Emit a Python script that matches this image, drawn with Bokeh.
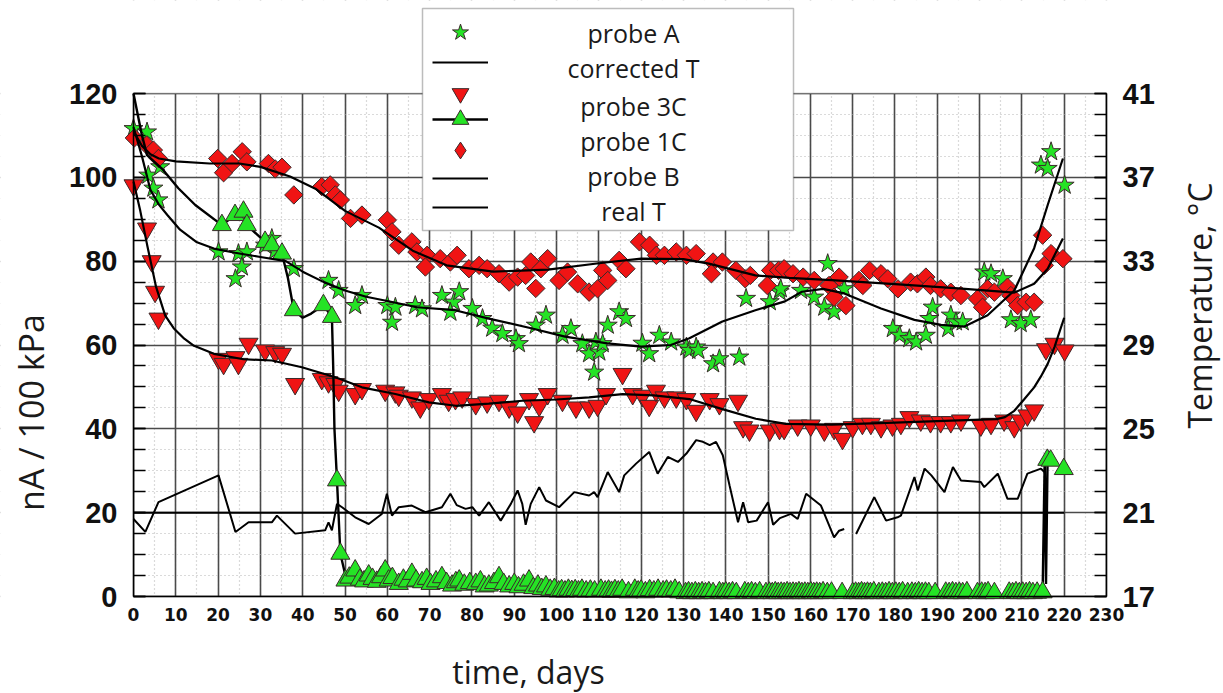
import math
from bokeh.plotting import figure
from bokeh.models import (Range1d, LinearAxis, SingleIntervalTicker, FixedTicker,
                          Legend, LegendItem, Label, BoxAnnotation)
from bokeh.embed import file_html
from bokeh.resources import INLINE

NaN = float("nan")

# ---------------- data ----------------
# probe A  (green stars)  nA / 100 kPa
probe_a_day = [0, 3.2, 3.5, 4.7, 5.9, 6.3, 20.1, 24.8, 26.8, 25.6, 24.1, 32.7, 31.1, 33.5,
               37.9, 46.1, 48.5, 54, 52.4, 60, 61.9, 61.1, 66.6, 68.2, 72.9, 75.7, 74.9,
               77, 80.1, 82.5, 84.8, 87.2, 90.4, 91.1, 95.1, 97.5, 101.4, 103.4, 106.1,
               107.7, 108.9, 109.3, 110.1, 110.9, 112.1, 114.8, 116.4, 120.3, 121.9, 124.3,
               127.1, 130.7, 131.4, 133, 133.5, 137, 138.5, 143.2, 144.8, 150.4, 152.7,
               153, 157.8, 160.9, 163.3, 164.1, 165.6, 168, 179.5, 181.1, 183.4, 185,
               187.3, 188.1, 188.9, 192.6, 193.2, 194.4, 196, 201.1, 202.7, 205.5, 207.4,
               209.7, 212.1, 214.5, 216.1, 216.9, 220.1]
probe_a_val = [111.6, 110.8, 100.5, 97.4, 94.6, 102.5, 82.2, 81.8, 82.2, 78.6, 75.8, 85.4, 83.8, 82.5,
               78.2, 75.4, 73.0, 71.8, 69.4, 69.4, 69.0, 65.4, 69.4, 68.6, 71.8, 70.2, 67.8,
               72.7, 68.7, 66.3, 64.0, 62.7, 61.5, 60.3, 64.7, 67.1, 62.3, 63.9, 60.3,
               57.9, 53.5, 60.7, 58.3, 60.3, 64.7, 67.9, 66.3, 60.4, 57.9, 62.3,
               60.7, 59.5, 58.7, 59.5, 58.7, 55.5, 56.7, 57.1, 71.1, 70.3, 72.7,
               73.4, 73.0, 71.4, 69.0, 79.4, 67.9, 73.4, 63.9, 62.3, 61.5, 60.7,
               62.3, 66.3, 69.0, 63.9, 67.1, 65.5, 65.5, 77.4, 77.0, 75.8, 66.0,
               65.1, 66.0, 102.9, 102.1, 106.1, 98.1]

# red diamonds
diamond_day = [0.2, 3.1, 4.7, 5.9, 19.9, 21.3, 23.3, 25.7, 26.8, 31.9, 33.5, 35.1, 37.9,
               44.5, 46.5, 47.7, 48.9, 51.3, 54, 60, 61.1, 62.7, 65.8, 67, 69.4, 69, 72.5,
               74.9, 76.5, 79.3, 81.7, 83.6, 86.4, 88.8, 90.8, 92.7, 93.9, 95.1, 96.3,
               97.9, 100.6, 102.6, 105, 107.7, 109.7, 110.9, 112.1, 114.8, 116.4, 119.6,
               122, 123.6, 125.5, 128.3, 130.7, 133, 137, 136.6, 139.2, 142.4, 144.6,
               145.8, 149.8, 150.6, 152.5, 153.8, 155.9, 158.3, 160.9, 164.4, 166.8,
               165.6, 168.4, 171.5, 172.4, 174, 176.7, 178.3, 180.7, 183.7, 185.3,
               187.3, 188.4, 190.8, 193.2, 195.6, 199.5, 200.7, 201.9, 203.5, 206.6,
               207.4, 209, 211, 212.9, 214.9, 215.3, 216.9, 219.7]
diamond_val = [109.4, 107.7, 106.5, 104.5, 104.5, 101.1, 103.3, 106.1, 103.7, 103.3, 102.0, 102.4, 95.8,
               97.8, 98.2, 95.8, 94.6, 90.2, 91.0, 89.8, 87.0, 83.8, 84.6, 82.2, 81.4, 78.6, 80.6,
               79.8, 81.4, 78.2, 79.0, 78.2, 77.0, 75.0, 76.2, 76.6, 79.8, 73.5, 78.2,
               80.6, 75.4, 77.4, 74.6, 72.6, 73.4, 77.8, 75.4, 80.2, 78.2, 84.6,
               83.8, 81.4, 81.4, 82.2, 81.4, 81.8, 79.8, 77.0, 79.8, 77.8, 75.8,
               76.6, 74.2, 77.8, 77.8, 78.2, 77.0, 76.2, 75.4, 74.2, 76.2,
               71.4, 69.4, 75.4, 74.2, 77.8, 77.0, 75.8, 73.4, 75.0, 74.6,
               76.2, 74.2, 73.4, 72.6, 71.8, 71.0, 69.0, 73.4, 72.6, 73.8,
               71.8, 69.4, 70.2, 70.2, 86.2, 79.0, 81.8, 80.6]

# probe 3C (red down triangles)
probe_3c_day = [0, 3.2, 4.3, 5.1, 5.9, 20.1, 21.3, 24.1, 24.8, 27.2, 31.1, 33.5, 35.1, 38.2,
                44.5, 46.1, 47.7, 48.5, 52.4, 54, 59.5, 61.9, 62.7, 65.8, 67.8, 69.8, 72.9,
                74.5, 76.1, 77.7, 80.9, 83.6, 86.4, 88.8, 90.8, 93.5, 94.7, 95.9, 97.9,
                101.4, 104.6, 107.7, 109.7, 111.7, 115.6, 118, 120.3, 121.9, 123.5, 125.5,
                128.3, 130.7, 133, 136.2, 138.5, 142.9, 144.1, 145.6, 150.4, 152.7, 153.8,
                157, 160.1, 163.3, 165.6, 167.6, 170, 172.3, 174.3, 176.7, 179.4, 181.4,
                183.4, 186.1, 188.4, 190.8, 193.2, 195.6, 200.3, 202.7, 205.8, 208.2,
                209.7, 211.3, 212.9, 215.7, 217.7, 220.1]
probe_3c_val = [98.1, 87.8, 80.0, 72.7, 66.3, 56.7, 55.5, 57.1, 55.5, 60.3, 58.7, 58.3, 57.9, 50.7,
                51.9, 51.1, 50.7, 49.1, 48.3, 49.5, 49.1, 48.7, 47.9, 47.5, 45.1, 47.1, 48.3,
                46.7, 47.1, 47.5, 45.9, 46.3, 46.7, 45.1, 43.9, 47.1, 41.6, 45.5, 48.3,
                46.7, 45.1, 45.1, 45.5, 48.3, 53.1, 48.3, 47.9, 45.5, 49.1, 47.5,
                47.5, 47.1, 44.3, 47.1, 45.9, 46.7, 40.4, 39.6, 39.6, 40.0, 40.0,
                40.8, 40.8, 39.6, 40.0, 37.6, 40.4, 41.2, 41.2, 40.4, 40.8, 41.2,
                42.8, 42.0, 41.6, 41.6, 41.6, 42.0, 40.8, 41.2, 42.0, 40.4,
                42.0, 43.2, 44.4, 59.0, 60.3, 58.7]

# probe 1C (green up triangles)
probe_1c_day = [20.9, 24, 26, 26.8, 31.1, 32.7, 35.1, 37.9, 44.9, 46.9, 48.1, 48.9,
                50.1, 51, 52.4, 53.5, 54.5, 55.6, 56.5, 57.5, 58.5, 59.5, 60.3, 61.2, 62.7,
                63.8, 64.8, 65.8, 66.8, 68.2, 69.3, 70.2, 71.5, 72.9, 74, 75.3, 76.2, 77,
                78.2, 79.5, 80.9, 82, 83, 84, 85.2, 86.4, 87.5, 88.8, 90, 91, 92.2, 93.5,
                94.5, 95.6, 96.5, 97.5, 98.5, 99.5, 100.5, 101.2, 102, 102.8, 103.6, 104.4,
                105.2, 106, 107, 108, 109, 110.5, 111.5, 112.3, 113, 113.8, 114.6, 115.5,
                117, 118.5, 119.3, 120, 121, 122, 123, 124, 125.2, 126, 127, 128, 129,
                130.5, 131.2, 132, 132.8, 133.6, 134.4, 135.2, 136, 137, 138.5, 139.3,
                140, 140.8, 141.6, 142.5, 144.5, 145.3, 146.1, 147, 148, 149.5, 150.3,
                151, 151.7, 152.4, 153.1, 153.8, 154.5, 155.2, 155.9, 156.6, 157.3, 158,
                158.7, 159.4, 160.1, 160.8, 161.5, 162.2, 163, 164, 165, 167.5, 170,
                170.7, 171.4, 172.1, 172.8, 173.5, 174.2, 175, 176.2, 177, 177.8, 178.6,
                179.4, 180.2, 181, 181.8, 183, 184, 184.8, 185.6, 186.4, 187.2, 188,
                189.5, 192, 192.8, 193.6, 194.4, 195.2, 196, 197, 199.5, 200.5, 201.3,
                202, 203.5, 207, 207.8, 208.6, 209.4, 210.2, 211, 211.8, 212.6, 213.6,
                214.9, 216.0, 216.8, 219.9]
probe_1c_val = [88.6, 91.0, 91.8, 88.6, 84.6, 83.8, 81.8, 68.3, 69.5, 66.7, 27.7, 10.2,
                3.8, 4.5, 6.2, 4.0, 3.6, 5.0, 4.2, 3.5, 4.6, 6.2, 3.8, 4.4, 3.0,
                4.0, 3.6, 5.4, 3.8, 3.4, 4.2, 3.0, 3.6, 4.6, 3.2, 2.6, 3.4, 3.8,
                2.8, 3.2, 3.0, 3.6, 2.4, 2.6, 3.2, 4.6, 3.0, 2.4, 3.0, 2.2, 2.8, 3.8,
                2.0, 2.6, 1.8, 2.4, 1.6, 1.8, 1.2, 1.5, 1.2, 1.6, 1.3, 1.5,
                1.2, 1.6, 1.2, 1.4, 1.2, 1.6, 1.2, 1.4, 1.1, 1.5, 1.2, 1.6,
                1.0, 1.6, 1.2, 1.4, 1.0, 1.5, 1.2, 1.6, 1.2, 1.4, 1.2, 1.6, 1.0,
                0.8, 1.0, 0.8, 1.0, 0.8, 1.0, 0.8, 1.0, 0.8, 1.0, 0.8,
                1.0, 0.8, 1.0, 0.8, 1.0, 0.8, 1.0, 0.8, 1.0, 0.8, 0.9,
                0.8, 1.0, 0.8, 0.9, 0.8, 1.0, 0.8, 0.9, 0.8, 1.0, 0.8,
                0.9, 0.8, 1.0, 0.8, 0.9, 0.8, 1.0, 0.8, 0.9, 0.8, 0.8,
                0.9, 0.8, 1.0, 0.8, 0.9, 0.8, 1.0, 0.8, 0.9, 0.8, 1.0,
                0.8, 0.9, 0.8, 1.0, 0.8, 0.9, 0.8, 1.0, 0.8, 0.9, 0.8,
                0.8, 0.9, 0.8, 1.0, 0.8, 0.9, 0.8, 1.0, 0.8, 0.9, 0.8,
                1.0, 0.8, 0.9, 0.8, 1.0, 0.8, 0.9, 0.8, 1.0, 0.8, 0.9,
                1.0, 32.6, 32.4, 30.4]

# line joining probe 1C readings (NaN = gap)
line_1c_day = [0, 2, 3.2, 6.7, 10.6, 14.6, 20.9, 24, 26, 26.8, 31.1, 32.7, 35.1, 36.5, 37.9,
               40, 42, 44.9, 46.9, 47.2, 47.5, 48.1, 48.9, 50.1, 51, NaN,
               214.9, 215.4, 215.7, 216.1]
line_1c_val = [120, 110, 105.3, 102.1, 97.4, 93.4, 88.6, 91.0, 91.8, 88.6, 84.6, 83.8, 81.8, 76, 68.3,
               66.5, 67.5, 69.5, 66.7, 55, 40, 27.7, 10.2, 5.0, 3.8, NaN,
               1.0, 33, 3, 34.8]

# smooth trend curves
fit_a_day = [0, 2, 4, 6, 8, 11, 15, 19, 24, 30, 36, 40, 45, 50, 55, 60, 67, 76, 84, 94, 102,
             112, 120, 127, 131.4, 139.2, 147, 154, 158, 163, 168, 176.7, 184.6, 190.9,
             196.4, 201.9, 208.2, 212.9, 216.1, 219.7]
fit_a_val = [112, 105, 97, 93.5, 91, 87.5, 84.5, 83, 82, 81, 80, 77.5, 75, 73, 71.5, 70.5, 69,
             68.3, 66.3, 64, 62, 60.4, 59.6, 60, 61.6, 65.6, 68.3, 70.4, 72.7, 73.4, 72.3,
             68.7, 66, 64.8, 64.4, 67.1, 73, 83.1, 93.4, 104.5]

fit_3c_day = [0, 1.6, 3.2, 5.3, 7.5, 9.5, 12, 14.3, 19, 26, 32.7, 39.8, 47.7, 54, 61.9, 69.8,
              76.2, 84, 91.9, 100, 107.7, 115.6, 123, 131.4, 139.2, 147.1, 154.2, 165, 180,
              195, 204, 206, 208.2, 210.5, 212.9, 214.5, 216.1, 217.7, 220]
fit_3c_val = [99, 92, 84, 74, 67, 64, 61.5, 59.8, 57.9, 56.6, 56.3, 54.7, 52.3, 49.9, 48.3, 46.3,
              45.5, 46, 46.7, 47, 47.5, 48.3, 48, 47.1, 44.7, 42.4, 41.2, 41, 41.5,
              42, 42.3, 42.8, 44.3, 47, 49.9, 52.5, 55.5, 59.5, 66.5]

fit_dia_day = [0, 2, 4, 6, 10, 18, 25, 30, 37, 43, 50, 58, 66, 74, 85, 98, 110, 120, 130, 136,
               147, 155, 165, 180, 195, 208.2, 212.9, 216.1, 219.7]
fit_dia_val = [111, 107.5, 105.5, 104.5, 103.8, 103.3, 103.3, 102.5, 100.2, 97.3, 92, 88, 82.5,
               79, 77.5, 78, 79.5, 80.6, 80.5, 79.4, 76.6, 76, 75.5, 74.5, 73.5, 72.5, 74.6,
               78.2, 85.4]

# temperatures, deg C (right axis)
corrected_t_day = [0, 220]
corrected_t = [21, 21]

real_t_day = [0, 2.8, 5.9, 20.1, 24.1, 27.2, 32.7, 33.9, 38.2, 45.3, 46.1, 46.9, 48.1, 49.3,
              52.4, 55.6, 58.7, 59.9, 61.1, 62.7, 65.8, 69, 72.9, 74.9, 76.4, 78.5, 80.1,
              81.7, 84, 86.8, 89.2, 90.8, 91.9, 92.7, 93.9, 95.9, 97.5, 100.6, 104.2, 107.7,
              108.9, 109.7, 112.1, 114.8, 116, 118.8, 121.9, 123.9, 126.3, 128.7, 130.7, 133,
              134.6, 136.2, 137.7, 139.3, 140.9, 142.9, 144.1, 145.3, 147.3, 150, 151.2,
              152.8, 155.4, 157, 159, 162.5, 165.6, 166.8, 168, NaN, 170.8, 175.1, 177.9,
              180.6, 181.4, 184.6, 185.4, 187, 188.6, 191.7, 193.7, 195.6, 200.3, 201.1,
              204.3, 206.6, 209, 211.3, 214.5, 215.3]
real_t = [20.70, 20.08, 21.50, 22.78, 20.08, 20.54, 20.54, 20.86, 20.00, 20.16, 20.54, 20.16, 21.42, 21.26,
          20.78, 20.46, 20.94, 21.90, 20.86, 21.26, 21.34, 21.02, 21.26, 21.90, 21.36, 21.18, 21.26,
          20.86, 21.50, 20.62, 21.42, 22.06, 21.42, 20.42, 21.42, 22.22, 21.58, 21.26, 21.98, 21.82,
          21.98, 21.74, 22.94, 21.98, 22.78, 23.34, 23.90, 22.86, 23.66, 23.42, 23.82, 24.46,
          24.38, 24.22, 24.38, 23.74, 22.30, 20.54, 21.50, 20.54, 20.62, 21.50, 20.42,
          20.74, 20.94, 20.70, 21.90, 21.34, 19.82, 20.14, 20.22, NaN, 19.98, 21.74, 20.62,
          20.78, 20.86, 22.70, 22.06, 23.10, 22.78, 21.98, 23.18, 22.54, 22.46, 22.22,
          22.86, 21.66, 21.66, 22.86, 23.10, 22.94]

x_min, x_max = 0, 230
y_min, y_max = 0, 120
t_min, t_max = 17, 41
x_ticks_step = 10
y_ticks_step = 20
temp_ticks = [17, 21, 25, 29, 33, 37, 41]
temp_minor = list(range(17, 42))

legend_labels = ["probe A", "corrected T", "probe 3C", "probe 1C", "probe B", "real T"]

# ---------------- styling / layout ----------------
GREEN = "#25e325"
RED = "#f01414"
EDGE = "#3a2a2a"
TICK_FONT = "Liberation Sans"
TITLE_FONT = "Open Sans"

W, H = 1223, 693
# canvas pixels of the plotting rectangle (day 0..230, value 0..120)
PL, PR, PT, PB = 133, 1106, 93, 596
PX_X = (PR - PL) / (x_max - x_min)
PX_Y = (PB - PT) / (y_max - y_min)

# the frame fills the whole canvas; axes are pinned to the plotting rectangle
x_start = x_min - PL / PX_X
x_end = x_min + (W - PL) / PX_X
y_end = y_min + PB / PX_Y
y_start = y_min - (H - PB) / PX_Y

p = figure(width=W, height=H, x_range=Range1d(x_start, x_end), y_range=Range1d(y_start, y_end),
           output_backend="svg", toolbar_location=None,
           min_border_left=0, min_border_right=0, min_border_top=0, min_border_bottom=0)
p.extra_y_ranges = {"temp": Range1d(t_min + y_start / 5.0, t_min + y_end / 5.0)}
p.outline_line_color = None
p.background_fill_color = "white"
p.border_fill_color = "white"
p.title.visible = False

p.xaxis.ticker = SingleIntervalTicker(interval=x_ticks_step, num_minor_ticks=2)
p.yaxis.ticker = SingleIntervalTicker(interval=y_ticks_step, num_minor_ticks=4)

for g in (p.xgrid, p.ygrid):
    g.grid_line_color = "#4a4a4a"
    g.grid_line_width = 1.6
    g.minor_grid_line_color = "#b5b5b5"
    g.minor_grid_line_dash = "1 3"
    g.minor_grid_line_width = 1.2
p.xgrid.bounds = (x_min, x_max)
p.ygrid.bounds = (y_min, y_max)

# white margins outside the plotting rectangle (hide grid there), drawn past the canvas edge
pad_x = 0.1 * (x_end - x_start)
pad_y = 0.1 * (y_end - y_start)
X0, X1 = x_start - pad_x, x_end + pad_x
Y0, Y1 = y_start - pad_y, y_end + pad_y
margins = [
    dict(left=X0, right=X1, bottom=y_max, top=Y1),
    dict(left=X0, right=X1, bottom=Y0, top=y_min),
    dict(left=x_max, right=X1, bottom=Y0, top=Y1),
    dict(left=X0, right=x_min, bottom=Y0, top=Y1),
]
for kw in margins:
    p.add_layout(BoxAnnotation(fill_color="white", fill_alpha=1.0, line_color=None,
                               level="underlay", **kw))
p.add_layout(BoxAnnotation(left=x_min, right=x_max, bottom=y_min, top=y_max,
                           fill_alpha=0.0, line_color="black", line_width=1.5,
                           level="underlay"))

xa = p.xaxis[0]
xa.fixed_location = y_min
xa.bounds = (x_min, x_max)
xa.axis_line_color = "black"
xa.axis_line_width = 1.5
xa.major_tick_in = 0
xa.major_tick_out = 0
xa.minor_tick_in = 0
xa.minor_tick_out = 0
xa.major_label_text_font = "DejaVu Sans"
xa.major_label_text_font_style = "bold"
xa.major_label_text_font_size = "17px"
xa.major_label_text_color = "#111111"
xa.major_label_standoff = 11

ya = p.yaxis[0]
ya.fixed_location = x_min
ya.bounds = (y_min, y_max)
ya.axis_line_color = "black"
ya.axis_line_width = 1.5
ya.major_tick_in = 12
ya.major_tick_out = 0
ya.minor_tick_in = 12
ya.minor_tick_out = 0
ya.major_tick_line_width = 1.5
ya.minor_tick_line_width = 1.5
ya.major_label_text_font = TICK_FONT
ya.major_label_text_font_style = "bold"
ya.major_label_text_font_size = "29px"
ya.major_label_text_color = "#111111"
ya.major_label_standoff = 16

ra = LinearAxis(y_range_name="temp", bounds=(t_min, t_max), fixed_location=x_max,
                ticker=FixedTicker(ticks=temp_ticks, minor_ticks=temp_minor))
ra.axis_line_color = "black"
ra.axis_line_width = 1.5
ra.major_tick_in = 12
ra.major_tick_out = 0
ra.minor_tick_in = 12
ra.minor_tick_out = 0
ra.major_tick_line_width = 1.5
ra.minor_tick_line_width = 1.5
ra.major_label_text_font = TICK_FONT
ra.major_label_text_font_style = "bold"
ra.major_label_text_font_size = "29px"
ra.major_label_text_color = "#111111"
ra.major_label_standoff = 16
p.add_layout(ra, "right")

# ---------------- glyphs ----------------
r_star = p.scatter(probe_a_day, probe_a_val, marker="star", size=20,
                   fill_color=GREEN, line_color=EDGE, line_width=1)
r_dia = p.scatter(diamond_day, diamond_val, marker="square", angle=math.pi / 4, size=13,
                  fill_color=RED, line_color=EDGE, line_width=1)
r_3c = p.scatter(probe_3c_day, probe_3c_val, marker="inverted_triangle", size=19,
                 fill_color=RED, line_color=EDGE, line_width=1)
r_1c_line = p.line(line_1c_day, line_1c_val, line_color="black", line_width=2.4)
r_1c = p.scatter(probe_1c_day, probe_1c_val, marker="triangle", size=19,
                 fill_color=GREEN, line_color=EDGE, line_width=1)

r_fit_a = p.line(fit_a_day, fit_a_val, line_color="black", line_width=2.2)
r_fit_3c = p.line(fit_3c_day, fit_3c_val, line_color="black", line_width=2.2)
r_fit_dia = p.line(fit_dia_day, fit_dia_val, line_color="black", line_width=2.2)

r_corr = p.line(corrected_t_day, corrected_t, y_range_name="temp", line_color="black", line_width=2)
r_real = p.line(real_t_day, real_t, y_range_name="temp", line_color="black", line_width=2)

# hidden twin of the diamond series, used only for its legend symbol
r_dia_key = p.scatter(diamond_day, diamond_val, marker="diamond", fill_color=RED,
                      line_color=EDGE, line_width=1, visible=False)

# ---------------- axis titles (screen px inside the full-canvas frame) ----------------
def at(px, py):
    return dict(x=px, y=H - py, x_units="screen", y_units="screen")

p.add_layout(Label(**at(528, 671), text="time, days", text_align="center", text_baseline="middle",
                   text_font=TITLE_FONT, text_font_size="32px", text_color="#1a1a1a"))
p.add_layout(Label(**at(30, 412), text="nA / 100 kPa", angle=90, angle_units="deg",
                   text_align="center", text_baseline="middle",
                   text_font=TITLE_FONT, text_font_size="34px", text_color="#1a1a1a"))
p.add_layout(Label(**at(1199, 305), text="Temperature, °C", angle=90, angle_units="deg",
                   text_align="center", text_baseline="middle",
                   text_font=TITLE_FONT, text_font_size="32px", text_color="#1a1a1a"))

# ---------------- legend ----------------
p.add_layout(BoxAnnotation(left=422, right=793, bottom=H - 230, top=H - 8,
                           left_units="screen", right_units="screen",
                           bottom_units="screen", top_units="screen",
                           fill_color="white", fill_alpha=1.0,
                           line_color="#222222", line_width=1.5, level="underlay"))

key_rows = [
    ([r_star], 32),
    ([r_corr], 62),
    ([r_3c], 93),
    ([r_1c_line, r_1c], 119),
    ([r_dia_key], 150),
    ([r_fit_dia], 178),
    ([r_real], 207),
]
KEY_H = 42
for rends, yc in key_rows:
    lg = Legend(items=[LegendItem(label=" ", renderers=rends)],
                location=(432, H - yc - KEY_H // 2), orientation="vertical",
                padding=0, spacing=0, margin=0, glyph_width=56, glyph_height=KEY_H,
                label_standoff=0, label_width=1, label_height=KEY_H,
                label_text_font_size="1px", click_policy="none",
                border_line_color=None, background_fill_alpha=0.0)
    p.add_layout(lg)

label_rows = [32, 67, 105, 140, 175, 210]
for txt, yc in zip(legend_labels, label_rows):
    p.add_layout(Label(**at(633, yc), text=txt, text_align="center", text_baseline="middle",
                       level="overlay", text_font=TITLE_FONT, text_font_size="25px",
                       text_color="#1a1a1a"))

open("out.html", "w").write(file_html(p, INLINE))
